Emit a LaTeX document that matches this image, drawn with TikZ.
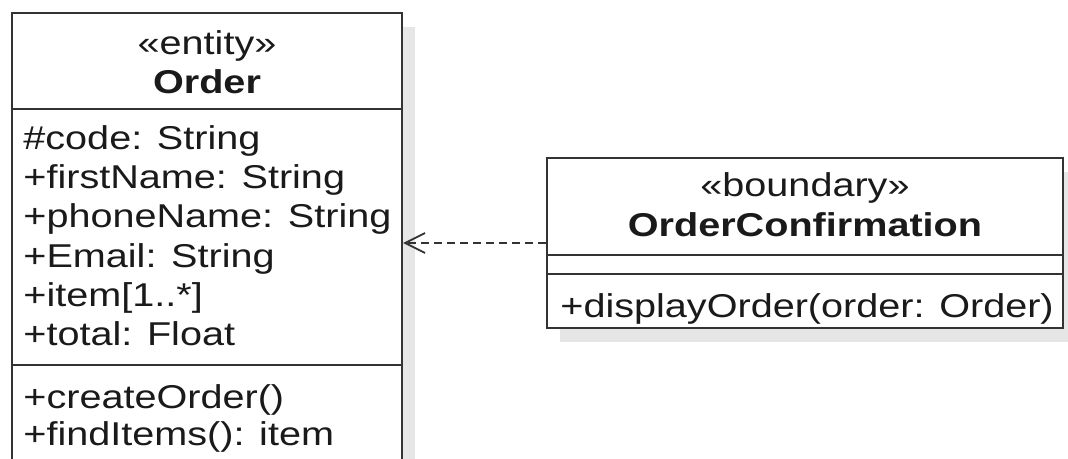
\documentclass[tikz,border=0pt]{standalone}
\usepackage{fontspec}
\setmainfont{Liberation Sans}[FakeStretch=1.2]
\usetikzlibrary{arrows.meta,positioning,calc,shadows}
\definecolor{uline}{HTML}{333333}
\definecolor{utext}{HTML}{1A1A1A}
\definecolor{ushadow}{HTML}{E6E6E6}
\tikzset{
  % class frame with the flat grey drop shadow
  cls/.style    = {rectangle, draw=uline, line width=1pt, fill=white, inner sep=0pt,
                   drop shadow={shadow xshift=6.5pt, shadow yshift=-7pt,
                                fill=ushadow, opacity=1}},
  sep/.style    = {draw=uline, line width=1pt},
  mem/.style    = {anchor=base west, inner sep=0pt, text=utext,
                   font=\fontsize{16.5}{20}\selectfont},
  stereo/.style = {anchor=base, inner sep=0pt, text=utext,
                   font=\fontsize{16.5}{20}\selectfont},
  cname/.style  = {anchor=base, inner sep=0pt, text=utext,
                   font=\fontsize{16.5}{20}\selectfont\bfseries},
  dep/.style    = {-{Straight Barb[length=10pt,width=10pt]}, line width=0.9pt, uline,
                   dash pattern=on 4pt off 2.5pt},
}
\begin{document}
\begin{tikzpicture}[x=0.5pt,y=-0.5pt]
\useasboundingbox (0,0) rectangle (1068,459);
\clip (0,0) rectangle (1068,459);
% entity class
\node[cls, minimum width=195pt, minimum height=227pt] (order) at (207,240) {};
\draw[sep] ([yshift=-48.5pt]order.north west) -- ([yshift=-48.5pt]order.north east);
\draw[sep] ([yshift=-176.5pt]order.north west) -- ([yshift=-176.5pt]order.north east);
\node[stereo] (ordst) at (207,55) {«entity»};
\node[cname] (ordname) at (207,94) {Order};
\foreach \txt [count=\i] in {\#code: String, +firstName: String, +phoneName: String,
                             +Email: String, +item[1..*], +total: Float}
  \node[mem] (oa\i) at (23,{150+39*(\i-1)}) {\txt};
\node[mem] (om1) at (23,408) {+createOrder()};
\node[mem] (om2) at (23,445) {+findItems(): item};
% boundary class
\node[cls, minimum width=258pt, minimum height=85pt] (conf) at (805,243) {};
\draw[sep] ([yshift=-49pt]conf.north west) -- ([yshift=-49pt]conf.north east);
\draw[sep] ([yshift=-58.5pt]conf.north west) -- ([yshift=-58.5pt]conf.north east);
\node[stereo] (confst) at (805,197) {«boundary»};
\node[cname] (confname) at (805,237) {OrderConfirmation};
\node[mem] (cm1) at (560,317) {+displayOrder(order: Order)};
% dependency
\draw[dep] (conf.west) -- (conf.west -| order.east);
\end{tikzpicture}
\end{document}
